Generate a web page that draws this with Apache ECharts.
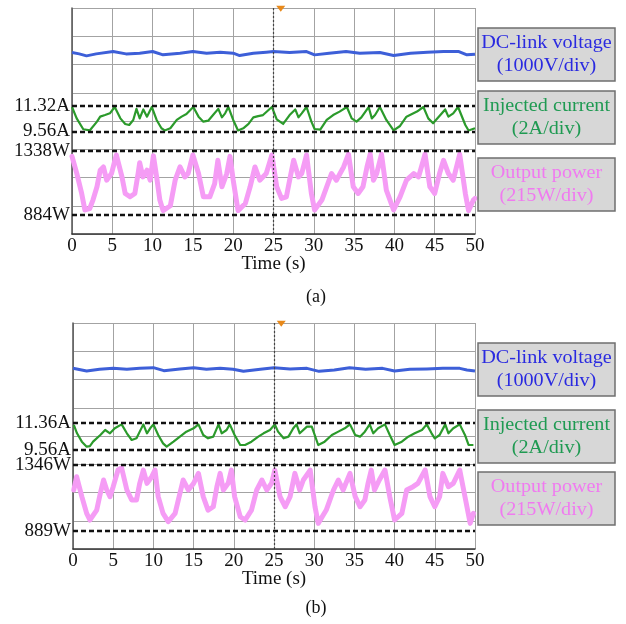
<!DOCTYPE html>
<html><head><meta charset="utf-8">
<script src="https://cdn.jsdelivr.net/npm/echarts@6/dist/echarts.min.js"></script>
<style>html,body{margin:0;padding:0;background:#fff}#c{width:626px;height:624px}</style>
</head><body><div id="c"></div>
<script>
// ---------- DATA ----------
const timeTicks = [0, 5, 10, 15, 20, 25, 30, 35, 40, 45, 50];
const cursorTime = 25;

// Panel (a)
const voltageA = [[0,424],[0.9,376],[1.8,306],[3.0,376],[5.1,459],[6.7,376],[8.4,400],[10.0,459],[11.3,341],[13.4,400],[15.0,459],[16.7,400],[18.4,435],[20.0,400],[20.8,317],[22.5,400],[24.1,435],[25.0,459],[27.0,424],[29.1,459],[30.1,341],[31.9,400],[34.0,459],[35.7,400],[38.2,424],[39.9,317],[42.0,400],[44.1,435],[46.1,459],[48.0,459],[49.0,341],[50.0,365]];
const currentA = [[0,11.25],[0.58,10.46],[1.4,9.70],[2.2,9.62],[3.1,10.23],[3.5,10.58],[4.1,10.69],[4.7,10.81],[5.3,11.25],[6.0,10.46],[6.6,10.07],[7.1,10.0],[7.6,10.35],[8.0,11.12],[8.4,10.46],[8.85,11.08],[9.3,10.58],[9.9,11.25],[10.5,10.35],[11.1,9.77],[11.5,9.62],[12.2,9.77],[13.0,10.35],[13.6,10.58],[14.2,10.76],[15.05,11.25],[15.7,10.58],[16.3,10.23],[16.9,10.30],[17.5,10.69],[18.15,11.12],[18.6,10.53],[19.0,10.81],[19.4,11.25],[20.0,10.35],[20.6,9.62],[21.25,9.77],[21.9,10.07],[22.5,10.53],[23.1,10.62],[23.7,10.69],[24.8,11.25],[25.4,10.39],[26.2,10.07],[27.0,10.69],[27.7,11.08],[28.1,10.53],[28.5,10.81],[29.1,11.25],[29.7,10.23],[30.1,9.72],[30.8,9.68],[31.6,10.35],[32.4,10.69],[33.2,10.93],[34.1,11.25],[34.7,10.46],[35.3,10.23],[35.9,10.53],[36.8,11.25],[37.2,10.46],[37.6,10.69],[38.2,11.25],[39.0,10.35],[39.9,9.62],[40.7,9.93],[41.5,10.58],[42.8,10.93],[43.6,11.25],[44.2,10.46],[44.8,10.12],[45.7,10.69],[46.3,11.08],[46.7,10.58],[47.3,10.81],[47.9,11.25],[48.8,10.0],[49.2,9.62],[50,9.77]];
const powerA = [[0,1300],[0.6,1178],[1.2,1037],[1.6,920],[2.2,930],[2.6,990],[3.1,1084],[3.5,1202],[3.9,1225],[4.3,1131],[4.9,1178],[5.5,1310],[6.2,1154],[6.6,1037],[7.2,1013],[7.8,1037],[8.2,1178],[8.4,1255],[8.8,1154],[9.3,1202],[9.7,1131],[10.1,1305],[10.5,1154],[10.9,990],[11.3,915],[12.2,950],[12.8,1131],[13.4,1225],[14.0,1154],[14.4,1178],[15.0,1310],[15.7,1178],[16.3,1013],[17.1,1013],[17.7,1107],[18.1,1272],[18.6,1084],[19.2,1178],[19.6,1300],[20.0,1131],[20.6,915],[21.5,965],[22.1,1084],[22.7,1225],[23.3,1131],[24.1,1178],[24.8,1310],[25.4,1084],[26.0,1002],[26.6,1013],[27.0,1131],[27.5,1272],[28.1,1154],[28.5,1178],[29.1,1310],[29.7,1037],[30.1,920],[31.0,990],[31.6,1084],[32.2,1178],[32.8,1131],[33.7,1225],[34.3,1315],[34.9,1084],[35.5,1037],[36.1,1084],[36.6,1225],[37.0,1315],[37.4,1131],[37.8,1178],[38.4,1315],[39.0,1060],[39.9,920],[40.7,1013],[41.5,1131],[42.4,1178],[43.0,1154],[43.8,1315],[44.4,1084],[45.0,1037],[45.6,1178],[46.1,1272],[46.7,1178],[47.3,1131],[48.1,1315],[48.8,1037],[49.2,915],[49.8,990],[50,1002]];
const currentLevelsA = [11.32, 9.56];
const powerLevelsA = [1338, 884];

// Panel (b)
const voltageB = [[0,435],[1.7,341],[3.3,400],[5.0,435],[6.7,400],[8.3,435],[10.0,459],[11.3,353],[13.3,412],[15.0,459],[16.6,400],[18.3,435],[19.9,400],[21.2,329],[23.3,400],[25.0,459],[27.0,412],[29.1,435],[30.6,329],[32.5,376],[34.4,459],[36.4,400],[38.5,435],[40.0,341],[41.9,400],[44.0,412],[46.0,435],[48.1,435],[49.0,376],[50.0,341]];
const currentB = [[0.1,11.21],[0.5,10.66],[1.1,10.11],[1.7,9.78],[2.1,9.82],[2.5,10.11],[3.4,10.55],[4.0,10.88],[4.6,10.66],[5.2,10.99],[6.05,11.25],[6.7,10.66],[7.3,10.22],[7.9,10.33],[8.3,10.77],[8.75,11.25],[9.2,10.66],[9.6,10.99],[10.0,11.25],[10.6,10.55],[11.2,10.0],[11.65,9.78],[12.5,10.11],[13.3,10.44],[14.1,10.77],[15.0,10.99],[15.6,11.25],[16.2,10.55],[16.8,10.33],[17.45,10.44],[18.1,11.25],[18.5,10.66],[19.1,10.88],[19.5,11.25],[20.1,10.55],[20.8,9.89],[21.4,9.89],[22.2,10.11],[23.05,10.44],[23.7,10.66],[24.5,10.88],[25.1,11.25],[25.5,10.77],[26.2,10.33],[26.8,10.44],[27.4,10.99],[27.8,11.25],[28.2,10.66],[29.1,11.10],[29.7,11.10],[30.5,9.89],[31.3,10.11],[32.2,10.55],[33.0,10.77],[33.8,10.99],[34.45,11.25],[35.1,10.55],[35.7,10.44],[36.3,10.77],[36.9,11.25],[37.35,10.66],[37.95,10.99],[38.8,11.25],[39.4,10.55],[40.0,9.89],[40.9,10.11],[41.7,10.44],[42.5,10.66],[43.4,10.88],[44.0,11.25],[44.6,10.66],[45.0,10.33],[45.6,10.55],[46.3,11.25],[46.7,10.66],[47.3,10.99],[48.1,11.25],[48.75,10.55],[49.2,9.89],[49.8,9.89]];
const powerB = [[0.1,1173],[0.45,1265],[1.1,1127],[1.7,1011],[2.1,965],[2.95,1034],[3.4,1150],[3.8,1242],[4.2,1173],[4.6,1127],[5.0,1196],[5.6,1311],[6.05,1325],[6.7,1173],[7.3,1104],[7.9,1104],[8.3,1219],[8.75,1311],[9.2,1219],[9.8,1265],[10.2,1311],[10.6,1127],[11.2,1011],[11.85,954],[12.7,1011],[13.3,1150],[13.7,1242],[14.35,1173],[15.0,1219],[15.6,1288],[16.2,1127],[16.8,1034],[17.45,1057],[17.9,1196],[18.3,1288],[18.7,1173],[19.3,1219],[19.7,1311],[20.1,1127],[20.8,988],[21.4,965],[22.2,1034],[22.85,1173],[23.5,1242],[24.1,1173],[24.7,1219],[25.1,1311],[25.75,1127],[26.4,1057],[27.0,1127],[27.6,1288],[28.2,1173],[28.65,1242],[29.5,1311],[30.1,1057],[30.5,942],[31.5,1034],[32.4,1173],[33.0,1242],[33.6,1173],[34.45,1288],[35.1,1127],[35.7,1057],[36.3,1104],[36.7,1219],[37.1,1311],[37.5,1173],[38.1,1242],[38.8,1311],[39.4,1127],[40.0,965],[40.9,1011],[41.5,1173],[42.3,1196],[42.9,1219],[43.8,1311],[44.4,1127],[45.0,1057],[45.6,1127],[46.0,1288],[46.7,1196],[47.3,1219],[48.1,1311],[48.75,1127],[49.4,942],[49.8,1011]];
const currentLevelsB = [11.36, 9.56];
const powerLevelsB = [1346, 889];

const legendTexts = [
  'DC-link voltage\n(1000V/div)',
  'Injected current\n(2A/div)',
  'Output power\n(215W/div)'
];
const captions = ['(a)', '(b)'];

// ---------- LAYOUT / STYLE ----------
const FONT = "'Liberation Serif', 'Times New Roman', serif";
const C_BLUE = '#3d5fd8', C_GREEN = '#2b9a2b', C_PINK = '#f59cf5';
const T_BLUE = '#2a2ae0', T_GREEN = '#1f9a52', T_PINK = '#f07af0';
const GRIDCOL = '#a3a3a3';

const panels = [
  {grid:{left:72, top:8, width:403, height:226}, vRange:[-6000,2000], iRange:[2.415,18.138], pRange:[749.2,2352.4],
   voltage: voltageA, current: currentA, power: powerA, iLv: currentLevelsA, pLv: powerLevelsA,
   boxes:[[478,28],[478,91],[478,158]], capY: 297},
  {grid:{left:73, top:323, width:402, height:226}, vRange:[-5960,2040], iRange:[3.033,17.933], pRange:[764.4,2329.2],
   voltage: voltageB, current: currentB, power: powerB, iLv: currentLevelsB, pLv: powerLevelsB,
   boxes:[[478,343],[478,410],[478,472]], capY: 608}
];

const grids = [], xAxes = [], yAxes = [], series = [], graphics = [];
const dashStyle = {color:'#111', width:2.4, type:[5,3]};
const lvlLabel = {show:true, position:'start', distance:2, fontFamily:FONT, fontSize:19, color:'#111'};

panels.forEach((p, i) => {
  grids.push(p.grid);
  xAxes.push({
    gridIndex:i, type:'value', min:0, max:50, interval:5,
    axisLine:{show:true, onZero:false, lineStyle:{color:'#333', width:1.5}},
    axisTick:{show:false},
    axisLabel:{fontFamily:FONT, fontSize:19, color:'#111', margin:3, formatter:(v)=> timeTicks.includes(v) ? String(v) : ''},
    splitLine:{show:true, lineStyle:{color:GRIDCOL, width:1}},
    name:'Time (s)', nameLocation:'middle', nameGap:21, nameMoveOverlap:false,
    nameTextStyle:{fontFamily:FONT, fontSize:19, color:'#111'}
  });
  const base = yAxes.length;
  yAxes.push({gridIndex:i, type:'value', min:0, max:8, interval:1,
    axisLine:{show:true, onZero:false, lineStyle:{color:'#555', width:1.5}},
    axisTick:{show:false}, axisLabel:{show:false},
    splitLine:{show:true, lineStyle:{color:GRIDCOL, width:1}}});
  yAxes.push({gridIndex:i, type:'value', show:false, min:p.vRange[0], max:p.vRange[1], splitLine:{show:false}});
  yAxes.push({gridIndex:i, type:'value', show:false, min:p.iRange[0], max:p.iRange[1], splitLine:{show:false}});
  yAxes.push({gridIndex:i, type:'value', show:false, min:p.pRange[0], max:p.pRange[1], splitLine:{show:false}});

  series.push({
    type:'line', xAxisIndex:i, yAxisIndex:base+3, data:p.power, symbol:'none', z:3,
    lineStyle:{color:C_PINK, width:5, join:'round', cap:'round'}, silent:true,
    markLine:{symbol:'none', silent:true, lineStyle:dashStyle,
      data:p.pLv.map(v => ({yAxis:v, label:Object.assign({formatter: v + 'W'}, lvlLabel)}))}
  });
  series.push({
    type:'line', xAxisIndex:i, yAxisIndex:base+2, data:p.current, symbol:'none', z:4,
    lineStyle:{color:C_GREEN, width:2.2, join:'round'}, silent:true,
    markLine:{symbol:'none', silent:true, lineStyle:dashStyle,
      data:p.iLv.map(v => ({yAxis:v, label:Object.assign({formatter: v.toFixed(2) + 'A'}, lvlLabel)}))}
  });
  series.push({
    type:'line', xAxisIndex:i, yAxisIndex:base+1, data:p.voltage, symbol:'none', z:4,
    lineStyle:{color:C_BLUE, width:3, join:'round'}, silent:true,
    markLine:{symbol:'none', silent:true, label:{show:false},
      lineStyle:{color:'#444', width:1.2, type:[2,2]}, data:[{xAxis:cursorTime}]},
    markPoint:{symbol:'triangle', symbolRotate:180, symbolSize:[9,6], silent:true,
      itemStyle:{color:'#e8891a'}, label:{show:false},
      data:[{coord:[cursorTime + 0.9, p.vRange[1] - 30]}]}
  });

  p.boxes.forEach((b, k) => {
    graphics.push({type:'rect', shape:{x:b[0], y:b[1], width:137, height:53},
      style:{fill:'#d7d7d7', stroke:'#6f6f6f', lineWidth:1.5}, z:10});
    graphics.push({type:'text', x:b[0] + 68.5, y:b[1] + 27, scaleX:1.12, z:11,
      style:{text:legendTexts[k], fill:[T_BLUE,T_GREEN,T_PINK][k], font:'18px ' + FONT,
        align:'center', verticalAlign:'middle', lineHeight:23}});
  });
  graphics.push({type:'text', x:316, y:p.capY, z:11,
    style:{text:captions[i], fill:'#111', font:'18px ' + FONT, align:'center', verticalAlign:'middle'}});
});

const chart = echarts.init(document.getElementById('c'), null, {renderer:'canvas'});
chart.setOption({
  animation:false, backgroundColor:'#fff',
  grid:grids, xAxis:xAxes, yAxis:yAxes, series:series, graphic:graphics
});
</script></body></html>
